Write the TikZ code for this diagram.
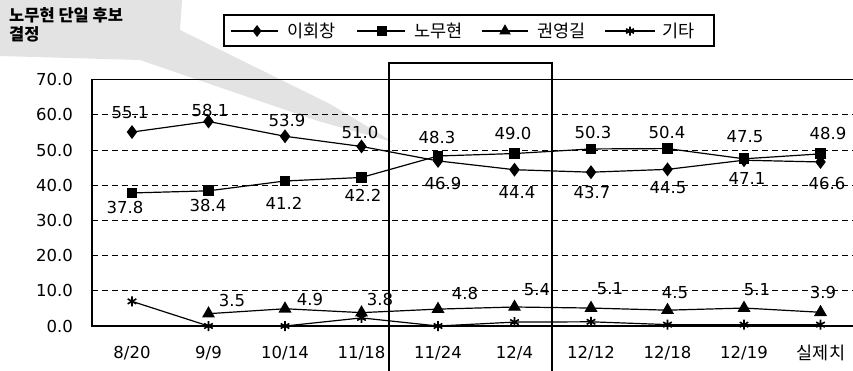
\documentclass[tikz,border=0pt]{standalone}
\usepackage{fontspec}
\setmainfont{DejaVu Sans}
\newfontfamily\kr{Noto Sans CJK KR}
\usetikzlibrary{plotmarks}
\begin{document}
\begin{tikzpicture}[x=1pt,y=-1pt,
  num/.style={font=\fontsize{16.5}{18}\selectfont, inner sep=0pt},
  krtext/.style={font=\kr\fontsize{17.5}{19}\selectfont, inner sep=0pt, anchor=west},
  grid/.style={line width=1pt, dash pattern=on 6pt off 4pt},
  series/.style={line width=1.2pt},
  mdia/.style={mark=diamond*, mark size=6pt, mark options={solid,fill=black}},
  msq/.style={mark=square*, mark size=4.8pt, mark options={solid,fill=black}},
  mtri/.style={mark=triangle*, mark size=6.3pt, mark options={solid,fill=black}},
  mast/.style={mark=asterisk, mark size=5pt, mark options={solid,line width=1.6pt}},
]
\useasboundingbox (0,0) rectangle (853,370);
\fill[white] (0,0) rectangle (853,370);

% gray callout halo
\fill[black!11] (0,0) -- (182,0) -- (180,30) -- (330,104) -- (393,142) -- (318,121) -- (140,60) -- (0,56) -- cycle;

% title
\node[font=\kr\bfseries\fontsize{16.5}{18}\selectfont, inner sep=0pt, anchor=west] (t1) at (9,15) {노무현 단일 후보};
\node[font=\kr\bfseries\fontsize{16.5}{18}\selectfont, inner sep=0pt, anchor=west] (t2) at (9,34) {결정};

% legend
\draw[line width=1.2pt] (224,15) rectangle (714,46);
\draw[series] (231,31) -- (278,31);
\draw[series] plot[mdia, mark size=5pt] coordinates {(257,31)};
\node[krtext] (l1) at (287,31) {이회창};
\draw[series] (357,31) -- (405,31);
\draw[series] plot[msq, mark size=4pt] coordinates {(382,31)};
\node[krtext] (l2) at (414,31) {노무현};
\draw[series] (482,31) -- (528,31);
\draw[series] plot[mtri, mark size=5.5pt] coordinates {(505,31)};
\node[krtext] (l3) at (537,31) {권영길};
\draw[series] (605,31) -- (655,31);
\draw[series] plot[mast, mark size=4.5pt] coordinates {(630,31)};
\node[krtext] (l4) at (662,31) {기타};

% grid
\foreach \v in {10,20,30,40,50,60} {
  \draw[grid] (92,{326-3.52*\v}) -- (853,{326-3.52*\v});
}
% frame
\draw[line width=1.5pt] (853,79.6) -- (92,79.6) -- (92,326) -- (853,326);

% y labels
\foreach \v/\t in {0/0.0,10/10.0,20/20.0,30/30.0,40/40.0,50/50.0,60/60.0,70/70.0} {
  \node[num, anchor=east] at (73,{326-3.52*\v}) {\t};
}

% category labels
\foreach \x/\t in {132/8\slash 20, 208.5/9\slash 9, 285/10\slash 14, 361.5/11\slash 18, 438/11\slash 24, 514.5/12\slash 4, 591/12\slash 12, 667.5/12\slash 18, 744/12\slash 19} {
  \node[num] at (\x,353) {\t};
}
\node[krtext, anchor=center] (real) at (821,353) {실제치};

% series
\draw[series] plot[mdia] coordinates {(132,132.05) (208.5,121.49) (285,136.27) (361.5,146.48) (438,160.91) (514.5,169.71) (591,172.18) (667.5,169.36) (744,160.21) (820.5,161.97)};
\draw[series] plot[msq] coordinates {(132,192.94) (208.5,190.83) (285,180.98) (361.5,177.46) (438,155.98) (514.5,153.52) (591,148.94) (667.5,148.59) (744,158.8) (820.5,153.87)};
\draw[series] plot[mtri] coordinates {(208.5,313.68) (285,308.75) (361.5,312.62) (438,309.10) (514.5,306.99) (591,308.05) (667.5,310.16) (744,308.05) (820.5,312.27)};
\draw[series] plot[mast] coordinates {(132,301.36) (208.5,326) (285,326) (361.5,317.9) (438,326) (514.5,322.1) (591,321.8) (667.5,324.6) (744,324.6) (820.5,324.6)};

% highlight box
\draw[line width=2pt] (389,62.5) -- (552,62.5);
\draw[line width=2pt] (389,61.5) -- (389,372);
\draw[line width=2pt] (552,61.5) -- (552,372);

% data labels upper
\foreach \x/\y/\t in {130/113/55.1, 210/110/58.1, 287/120/53.9, 360/132/51.0, 437/137/48.3, 513/133/49.0, 593/132/50.3, 667/132/50.4, 745/137/47.5, 828/133/48.9} {
  \node[num] at (\x,\y) {\t};
}
% data labels lower
\foreach \x/\y/\t in {125/207/37.8, 208/205/38.4, 284/203/41.2, 363/195/42.2, 443/183/46.9, 517/192/44.4, 592/192/43.7, 668/188/44.5, 747/178/47.1, 827/183/46.6} {
  \node[num] at (\x,\y) {\t};
}
% data labels small
\foreach \x/\y/\t in {232/300/3.5, 310/299/4.9, 380/299/3.8, 465/293/4.8, 537/290/5.4, 610/289/5.1, 675/293/4.5, 757/290/5.1, 823/292/3.9} {
  \node[num] at (\x,\y) {\t};
}
\end{tikzpicture}
\end{document}
